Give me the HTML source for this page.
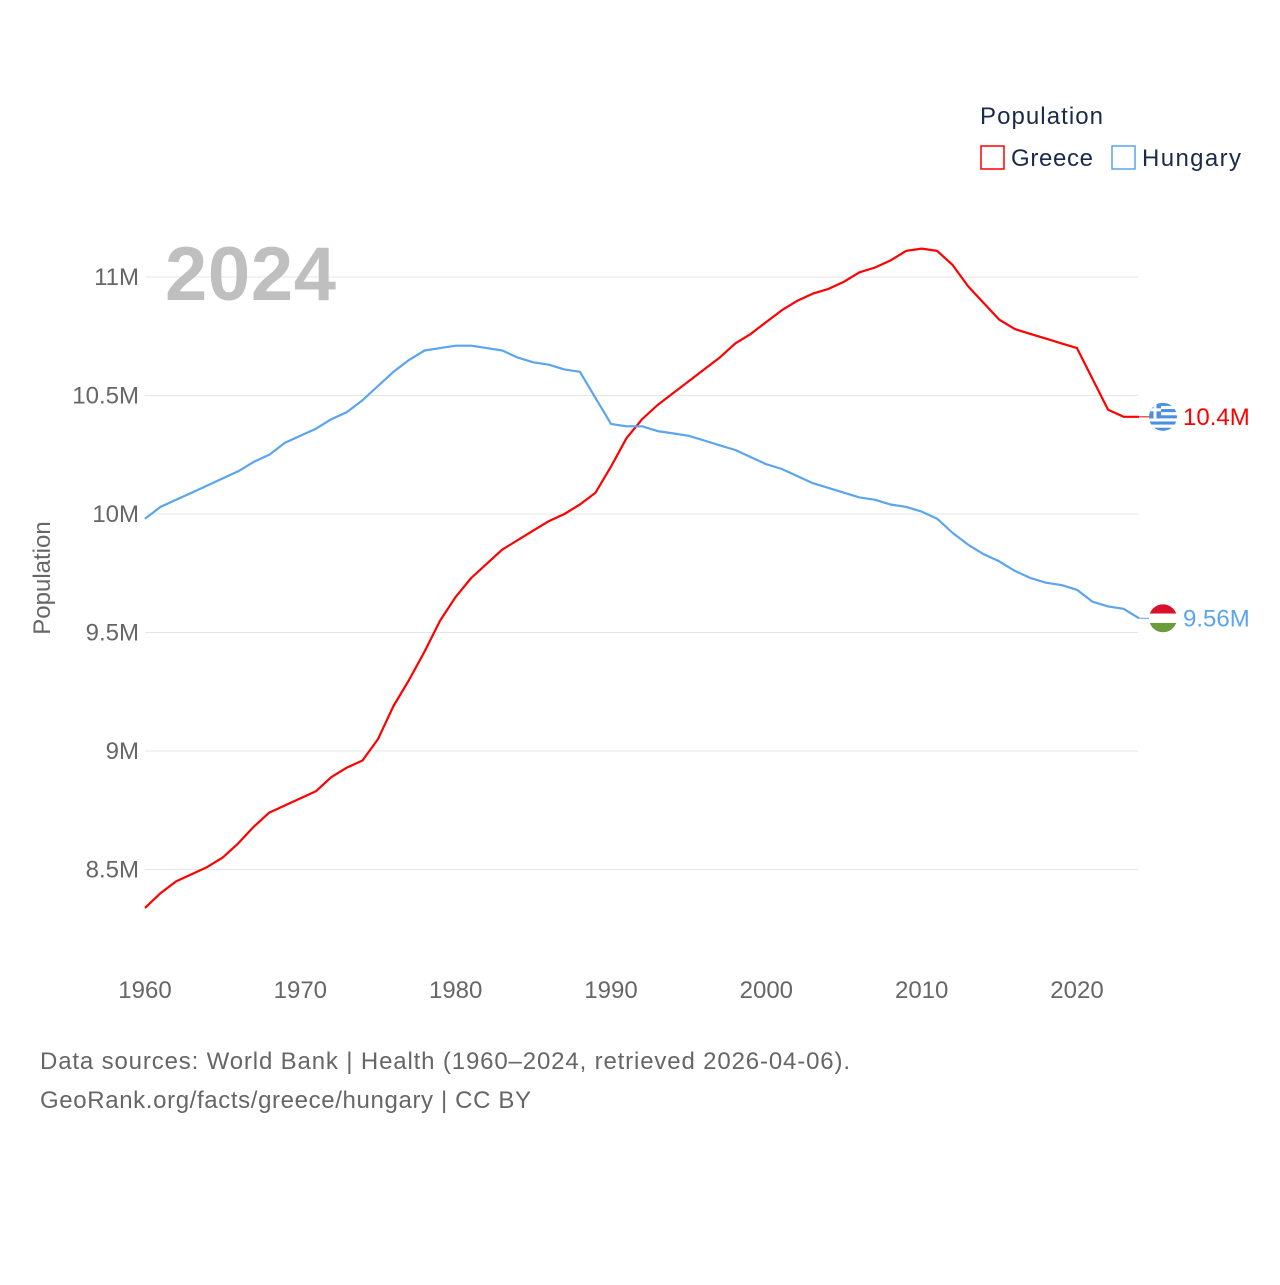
<!DOCTYPE html>
<html><head><meta charset="utf-8"><style>
body{margin:0;background:#fff;font-family:"Liberation Sans",sans-serif}
svg text{font-family:"Liberation Sans",sans-serif}
</style></head><body>
<svg id="chart" width="1280" height="1280" viewBox="0 0 1280 1280" xmlns="http://www.w3.org/2000/svg">
<rect width="1280" height="1280" fill="#fff"/>
<g id="grid"></g><g id="lines"></g><g id="labels"></g>
<text x="165" y="300" font-size="76" font-weight="bold" fill="#bfbfbf" textLength="171">2024</text>
<text transform="translate(50,578) rotate(-90)" text-anchor="middle" font-size="24" fill="#666">Population</text>
<text x="980" y="124" font-size="24" fill="#1a2b4a" textLength="123">Population</text>
<rect x="981" y="146" width="23" height="23" fill="none" stroke="#ff0000" stroke-width="1.5"/>
<text x="1011" y="166" font-size="24" fill="#1a2b4a" textLength="82">Greece</text>
<rect x="1112" y="146" width="23" height="23" fill="none" stroke="#5ba4ee" stroke-width="1.5"/>
<text x="1142" y="166" font-size="24" fill="#1a2b4a" textLength="99">Hungary</text>
<text x="40" y="1069" font-size="24" fill="#666" textLength="810">Data sources: World Bank | Health (1960–2024, retrieved 2026-04-06).</text>
<text x="40" y="1108" font-size="24" fill="#666" textLength="491">GeoRank.org/facts/greece/hungary | CC BY</text>
</svg>
<script>
const years=[];for(let y=1960;y<=2024;y++)years.push(y);
const greece=[8.338,8.40,8.45,8.48,8.51,8.55,8.61,8.68,8.74,8.77,8.80,8.83,8.89,8.93,8.96,9.05,9.19,9.30,9.42,9.55,9.65,9.73,9.79,9.85,9.89,9.93,9.97,10.00,10.04,10.09,10.20,10.32,10.40,10.46,10.51,10.56,10.61,10.66,10.72,10.76,10.81,10.86,10.90,10.93,10.95,10.98,11.02,11.04,11.07,11.11,11.12,11.11,11.05,10.96,10.89,10.82,10.78,10.76,10.74,10.72,10.70,10.57,10.44,10.41,10.41];
const hungary=[9.98,10.03,10.06,10.09,10.12,10.15,10.18,10.22,10.25,10.30,10.33,10.36,10.40,10.43,10.48,10.54,10.60,10.65,10.69,10.70,10.71,10.71,10.70,10.69,10.66,10.64,10.63,10.61,10.60,10.49,10.38,10.37,10.37,10.35,10.34,10.33,10.31,10.29,10.27,10.24,10.21,10.19,10.16,10.13,10.11,10.09,10.07,10.06,10.04,10.03,10.01,9.98,9.92,9.87,9.83,9.80,9.76,9.73,9.71,9.70,9.68,9.63,9.61,9.60,9.56];
const yTicks=[8.5,9,9.5,10,10.5,11];
const yTickLabels=["8.5M","9M","9.5M","10M","10.5M","11M"];
const xTicks=[1960,1970,1980,1990,2000,2010,2020];
const endLabels=["10.4M","9.56M"];
const X=y=>145+(y-1960)*(1077-145)/60;
const Y=v=>514-(v-10)*237;
const NS="http://www.w3.org/2000/svg";
function mk(t,a,p){const e=document.createElementNS(NS,t);for(const k in a)e.setAttribute(k,a[k]);p.appendChild(e);return e;}
const grid=document.getElementById('grid'),lines=document.getElementById('lines'),labels=document.getElementById('labels');
yTicks.forEach((v,i)=>{
 const l=mk('line',{x1:145,x2:1138,y1:Y(v),y2:Y(v),stroke:'#e6e6e6','stroke-width':1},grid);
 
 
 const t=mk('text',{x:139,y:Y(v)+8,'text-anchor':'end','font-size':24,fill:'#666'},labels);
 t.textContent=yTickLabels[i];
 
 
});
xTicks.forEach(v=>{
 const t=mk('text',{x:X(v),y:998,'text-anchor':'middle','font-size':24,fill:'#666'},labels);
 t.textContent=v;
 
 
});
function series(vals,color,name){
 const d=vals.map((v,i)=>(i?'L':'M')+X(years[i]).toFixed(1)+','+Y(v).toFixed(1)).join('');
 const p=mk('path',{d:d,fill:'none',stroke:color,'stroke-width':2.2,'stroke-linejoin':'round'},lines);
 
 
 const last=vals[vals.length-1];
 mk('line',{x1:X(2024),x2:1150,y1:Y(last),y2:Y(last),stroke:color,'stroke-width':1},lines);
}
series(greece,'#ff0000','greece-line');
series(hungary,'#5ba4ee','hungary-line');
const gy=Y(greece[greece.length-1]),hy=Y(hungary[hungary.length-1]);
const gf=mk('g',{},lines);


const cg=mk('clipPath',{id:'cg'},gf);mk('circle',{cx:1163,cy:gy,r:14},cg);
const gg=mk('g',{'clip-path':'url(#cg)'},gf);
for(let i=0;i<9;i++)mk('rect',{x:1149,y:gy-14+i*28/9,width:28,height:28/9+0.3,fill:i%2?'#fff':'#4a8fe0'},gg);
mk('rect',{x:1149,y:gy-14,width:12,height:15.5,fill:'#4a8fe0'},gg);
mk('rect',{x:1149,y:gy-8.5,width:12,height:3,fill:'#fff'},gg);
mk('rect',{x:1153.5,y:gy-14,width:3,height:15.5,fill:'#fff'},gg);
const hf=mk('g',{},lines);


const ch=mk('clipPath',{id:'ch'},hf);mk('circle',{cx:1163,cy:hy,r:14},ch);
const hg=mk('g',{'clip-path':'url(#ch)'},hf);
mk('rect',{x:1149,y:hy-14,width:28,height:9.4,fill:'#d8102b'},hg);
mk('rect',{x:1149,y:hy-4.7,width:28,height:9.4,fill:'#fff'},hg);
mk('rect',{x:1149,y:hy+4.7,width:28,height:9.4,fill:'#6a9c3a'},hg);
[[gy,'#ff0000',endLabels[0],'greece-end-label'],[hy,'#5ba4ee',endLabels[1],'hungary-end-label']].forEach(a=>{
 const t=mk('text',{x:1183,y:a[0]+8,'font-size':24,fill:a[1]},labels);
 t.textContent=a[2];
 
 
});
</script>
</body></html>
